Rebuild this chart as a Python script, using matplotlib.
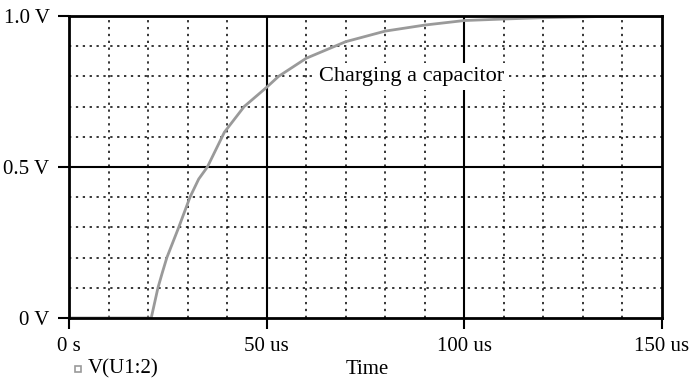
import matplotlib
matplotlib.use("Agg")
import matplotlib.pyplot as plt
from matplotlib.lines import Line2D

# values (time in us, voltage in V)
time_us = [0, 20.8, 22.5, 23.6, 24.75, 27.75, 30.6, 32.8, 35, 39.3, 44.3,
           50, 53, 60, 70, 80, 90, 100, 110, 119, 130, 140, 150]
volts = [0, 0, 0.1, 0.15, 0.2, 0.3, 0.4, 0.46, 0.5, 0.615, 0.7,
         0.764, 0.8, 0.86, 0.915, 0.95, 0.97, 0.985, 0.99, 0.994, 0.997, 1.0, 1.0]

x_ticks = [0, 50, 100, 150]
x_labels = ["0 s", "50 us", "100 us", "150 us"]
y_ticks = [0, 0.5, 1.0]
y_labels = ["0 V", "0.5 V", "1.0 V"]

plt.rcParams["font.family"] = ["Liberation Serif", "DejaVu Serif"]

fig = plt.figure(figsize=(6.92, 3.85), dpi=100)
ax = fig.add_axes([69 / 692, 67 / 385, 593 / 692, 302 / 385])

# dotted minor grid
for t in range(10, 150, 10):
    if t % 50:
        ax.axvline(t, color="black", linestyle=(0, (1.5, 3)), lw=1.1, zorder=1)
for v in [0.1, 0.2, 0.3, 0.4, 0.6, 0.7, 0.8, 0.9]:
    ax.axhline(v, color="black", linestyle=(0, (1.5, 3)), lw=1.1, zorder=1)
# solid major lines
for t in [50, 100]:
    ax.axvline(t, color="black", lw=1.5, zorder=1)
ax.axhline(0.5, color="black", lw=1.5, zorder=1)

ax.plot(time_us, volts, color="#9a9a9a", lw=2, zorder=3)

ax.text(63.3, 0.8, "Charging a capacitor", fontsize=16, va="center", ha="left",
        zorder=2, bbox=dict(facecolor="white", edgecolor="none", pad=3))

ax.set_xlim(0, 150)
ax.set_ylim(0, 1.0)
ax.set_xticks(x_ticks)
ax.set_xticklabels(x_labels, fontsize=15)
ax.set_yticks(y_ticks)
ax.set_yticklabels(y_labels, fontsize=15)
ax.tick_params(direction="out", length=8, width=1.5, pad=6)
for sp in ax.spines.values():
    sp.set_linewidth(2)
    sp.set_zorder(4)

# legend marker + x label
fig.add_artist(Line2D([78 / 692], [1 - 369 / 385], transform=fig.transFigure,
                      marker="s", markersize=5, mfc="white", mec="#9a9a9a",
                      mew=1.2, linestyle="none"))
fig.text(88 / 692, 1 - 369 / 385, "V(U1:2)", fontsize=15, va="center", ha="left")
fig.text(367 / 692, 1 - 369 / 385, "Time", fontsize=15, va="center", ha="center")

fig.savefig("out.png", dpi=100)
